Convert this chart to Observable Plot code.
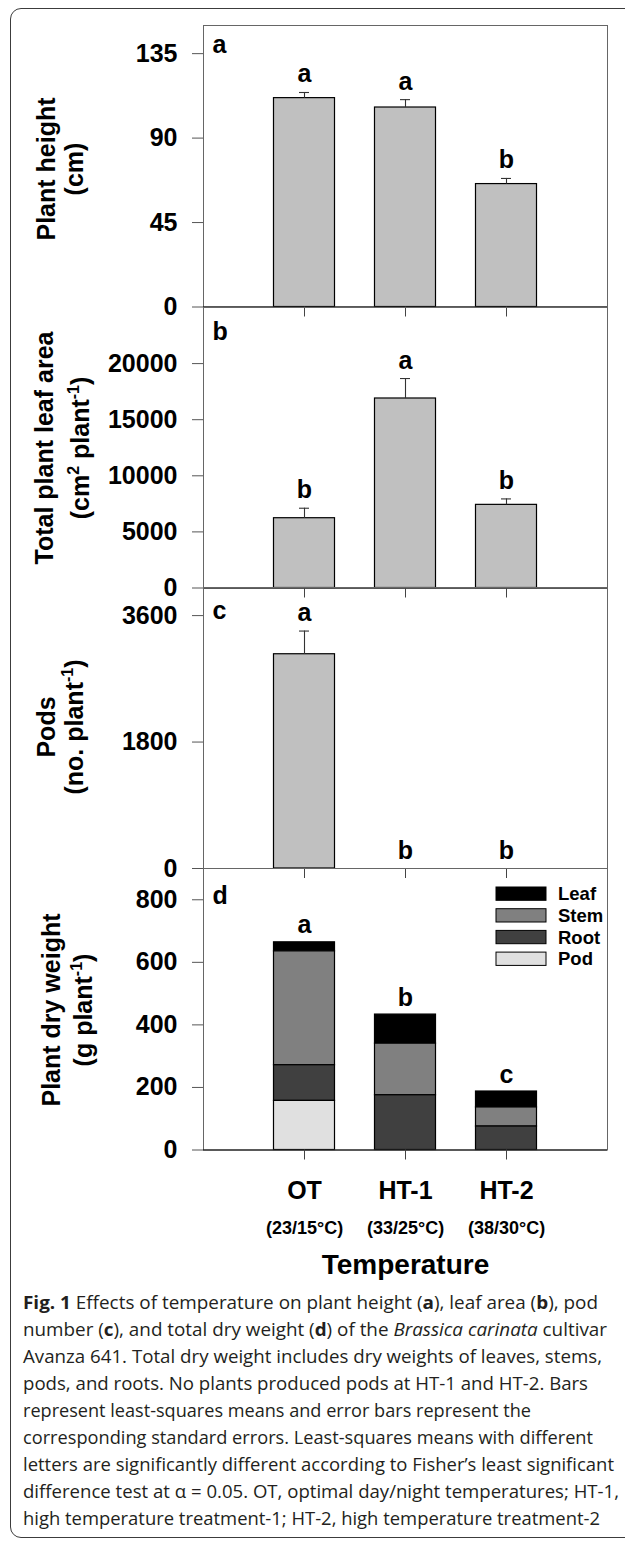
<!DOCTYPE html>
<html><head><meta charset="utf-8">
<script src="https://cdn.jsdelivr.net/npm/d3@7"></script>
<script src="https://cdn.jsdelivr.net/npm/@observablehq/plot@0.6"></script>
<style>
html,body{margin:0;padding:0;background:#fff;overflow:hidden;}
#fig{position:relative;width:625px;height:1541px;overflow:hidden;font-family:"Liberation Sans",Arial,sans-serif;}
#frame{position:absolute;left:10px;top:8px;width:640px;height:1530px;border:1.5px solid #3c3c3c;border-radius:11px;box-sizing:border-box;}
#overlay{position:absolute;left:0;top:0;}
</style></head><body><div id="fig"><div id="frame"></div></div>
<script>
// ---------------- data ----------------
const categories = ["OT", "HT-1", "HT-2"];
const tempRanges = ["(23/15°C)", "(33/25°C)", "(38/30°C)"];

const heightMean = [111.3, 106.3, 65.5];
const heightSE = [3.0, 4.2, 3.0];
const heightLetters = ["a", "a", "b"];

const leafAreaMean = [6220, 16890, 7410];
const leafAreaSE = [890, 1780, 530];
const leafAreaLetters = ["b", "a", "b"];

const podMean = [3050, 0, 0];
const podSE = [330, 0, 0];
const podLetters = ["a", "b", "b"];

const parts = ["Leaf", "Stem", "Root", "Pod"];
const partColors = ["#000000", "#808080", "#404040", "#e0e0e0"];
const dryLeaf = [29, 93, 51];
const dryStem = [364, 165, 61];
const dryRoot = [114, 175, 75];
const dryPod = [157, 0, 0];
const dryLetters = ["a", "b", "c"];

// ---------------- layout ----------------
const W = 625, ML = 203, MR = 18;
const fig = document.getElementById("fig");
const FONT = '"Liberation Sans", Arial, sans-serif';
const plain = d => String(d);
const xScale = {domain: categories, paddingInner: 0.396, paddingOuter: 0.698, round: false};
const baseStyle = {position: "absolute", left: "0px", overflow: "visible", background: "transparent",
  fontFamily: FONT, fontWeight: "bold", fontSize: "25px", color: "#000"};

function simplePanel(mean, se, letters, yDomain, yTicks, top, h, tag, tagDy) {
  const rows = categories.map((c, i) => ({cat: c, mean: mean[i], se: se[i], top: mean[i] + se[i], letter: letters[i]}));
  const withErr = rows.filter(d => d.se > 0);
  return Plot.plot({
    width: W, height: h, marginTop: 0, marginBottom: 0, marginLeft: ML, marginRight: MR,
    style: {...baseStyle, top: top + "px"},
    x: xScale,
    y: {domain: yDomain},
    marks: [
      Plot.barY(rows.filter(d => d.mean > 0), {x: "cat", y: "mean", fill: "#c0c0c0", stroke: "#000", strokeWidth: 1.2}),
      Plot.ruleX(withErr, {x: "cat", y1: "mean", y2: "top", stroke: "#333", strokeWidth: 1.1}),
      Plot.tickY(withErr, {x: "cat", y: "top", stroke: "#333", strokeWidth: 1.1, insetLeft: 25.5, insetRight: 25.5}),
      Plot.text(rows, {x: "cat", y: "top", text: "letter", lineAnchor: "bottom", dy: -10, fontSize: 25, fontWeight: "bold"}),
      Plot.frame({stroke: "#666"}),
      Plot.ruleY([0], {stroke: "#000", strokeWidth: 1.2}),
      Plot.axisY({ticks: yTicks, tickFormat: plain, tickSize: 11, tickPadding: 15, fontSize: 25, fontWeight: "bold", label: null, stroke: "#555", fill: "#000"}),
      Plot.axisX({tickSize: 10, tickFormat: () => "", label: null, stroke: "#444"}),
      Plot.text([tag], {frameAnchor: "top-left", textAnchor: "start", lineAnchor: "bottom", dx: 9, dy: tagDy, fontSize: 25, fontWeight: "bold"})
    ]
  });
}

fig.append(simplePanel(heightMean, heightSE, heightLetters, [0, 150], [0, 45, 90, 135], 25, 281.5, "a", 27));
fig.append(simplePanel(leafAreaMean, leafAreaSE, leafAreaLetters, [0, 25000], [0, 5000, 10000, 15000, 20000], 306.5, 280.5, "b", 32));
fig.append(simplePanel(podMean, podSE, podLetters, [0, 4000], [0, 1800, 3600], 587, 281, "c", 31.5));

// panel d: stacked dry weight
const dryByPart = {Leaf: dryLeaf, Stem: dryStem, Root: dryRoot, Pod: dryPod};
const dryRows = [];
categories.forEach((c, i) => parts.forEach(p => {
  if (dryByPart[p][i] > 0) dryRows.push({cat: c, part: p, value: dryByPart[p][i]});
}));
const totals = categories.map((c, i) => ({cat: c, total: d3.sum(parts, p => dryByPart[p][i]), letter: dryLetters[i]}));

fig.append(Plot.plot({
  width: W, height: 281.5, marginTop: 0, marginBottom: 0, marginLeft: ML, marginRight: MR,
  style: {...baseStyle, top: "868px"},
  x: xScale,
  y: {domain: [0, 900]},
  color: {domain: parts, range: partColors},
  marks: [
    Plot.barY(dryRows, {x: "cat", y: "value", fill: "part", order: parts.slice().reverse(), stroke: "#000", strokeWidth: 1.2}),
    Plot.text(totals, {x: "cat", y: "total", text: "letter", lineAnchor: "bottom", dy: -9, fontSize: 25, fontWeight: "bold"}),
    Plot.frame({stroke: "#666"}),
    Plot.ruleY([0], {stroke: "#000", strokeWidth: 1.2}),
    Plot.axisY({ticks: [0, 200, 400, 600, 800], tickFormat: plain, tickSize: 11, tickPadding: 15, fontSize: 25, fontWeight: "bold", label: null, stroke: "#555", fill: "#000"}),
    Plot.axisX({tickSize: 10, tickPadding: 21, fontSize: 25, fontWeight: "bold", label: null, stroke: "#444", fill: "#000"}),
    Plot.axisX({tickSize: 0, tickPadding: 71, fontSize: 18, fontWeight: "bold", label: null, fill: "#000",
      tickFormat: d => tempRanges[categories.indexOf(d)]}),
    Plot.text(["Temperature"], {frameAnchor: "bottom", lineAnchor: "bottom", dy: 124, fontSize: 28, fontWeight: "bold"}),
    Plot.text(["d"], {frameAnchor: "top-left", textAnchor: "start", lineAnchor: "bottom", dx: 9, dy: 35.5, fontSize: 25, fontWeight: "bold"})
  ]
}));

// ---------------- overlay: y labels, legend, caption ----------------
const svg = d3.select(fig).append("svg").attr("id", "overlay").attr("width", 625).attr("height", 1541);

const yLabels = [
  {cy: 169, lines: [{x: 55, segs: [["Plant height"]]}, {x: 83, segs: [["(cm)"]]}]},
  {cy: 448, lines: [{x: 53, segs: [["Total plant leaf area"]]}, {x: 89, segs: [["(cm"], ["2", "sup"], [" plant"], ["-1", "sup"], [")"]]}]},
  {cy: 727, lines: [{x: 55, segs: [["Pods"]]}, {x: 83, segs: [["(no. plant"], ["-1", "sup"], [")"]]}]},
  {cy: 1010, lines: [{x: 60, segs: [["Plant dry weight"]]}, {x: 92, segs: [["(g plant"], ["-1", "sup"], [")"]]}]}
];
yLabels.forEach(lab => lab.lines.forEach(line => {
  const t = svg.append("text")
    .attr("transform", `translate(${line.x},${lab.cy}) rotate(-90)`)
    .attr("text-anchor", "middle").attr("font-family", FONT).attr("font-weight", "bold")
    .attr("font-size", 25).attr("fill", "#000");
  let raised = false;
  line.segs.forEach(([s, kind]) => {
    const ts = t.append("tspan").text(s);
    if (kind === "sup" && !raised) { ts.attr("dy", -10).attr("font-size", 16); raised = true; }
    else if (kind === "sup") { ts.attr("font-size", 16); }
    else if (raised) { ts.attr("dy", 10); raised = false; }
  });
}));

// legend (panel d)
const lg = svg.append("g");
parts.forEach((p, i) => {
  const y = 887 + i * 21.7;
  lg.append("rect").attr("x", 496).attr("y", y).attr("width", 50).attr("height", 13.3)
    .attr("fill", partColors[i]).attr("stroke", "#000").attr("stroke-width", 1);
  lg.append("text").attr("x", 558).attr("y", y + 13.3).attr("font-family", FONT).attr("font-weight", "bold")
    .attr("font-size", 18.5).attr("fill", "#000").text(p);
});

// caption
const captionLines = [
  [["Fig. 1", "b"], [" Effects of temperature on plant height ("], ["a", "b"], ["), leaf area ("], ["b", "b"], ["), pod"]],
  [["number ("], ["c", "b"], ["), and total dry weight ("], ["d", "b"], [") of the "], ["Brassica carinata", "i"], [" cultivar"]],
  [["Avanza 641. Total dry weight includes dry weights of leaves, stems,"]],
  [["pods, and roots. No plants produced pods at HT-1 and HT-2. Bars"]],
  [["represent least-squares means and error bars represent the"]],
  [["corresponding standard errors. Least-squares means with different"]],
  [["letters are significantly different according to Fisher’s least significant"]],
  [["difference test at α = 0.05. OT, optimal day/night temperatures; HT-1,"]],
  [["high temperature treatment-1; HT-2, high temperature treatment-2"]]
];
const captionEnds = [598, 607, 602, 588, 531, 593, 614, 619, 600];
const capX = 23;
captionLines.forEach((segs, i) => {
  const t = svg.append("text").attr("x", capX).attr("y", 1309 + i * 27)
    .attr("font-family", '"Open Sans", "Noto Sans", sans-serif').attr("font-size", 18.2).attr("fill", "#231f20")
    .attr("textLength", captionEnds[i] - capX).attr("lengthAdjust", "spacingAndGlyphs");
  segs.forEach(([s, k]) => {
    const ts = t.append("tspan").text(s);
    if (k === "b") ts.attr("font-weight", "bold");
    if (k === "i") ts.attr("font-style", "italic");
  });
});
</script></body></html>
